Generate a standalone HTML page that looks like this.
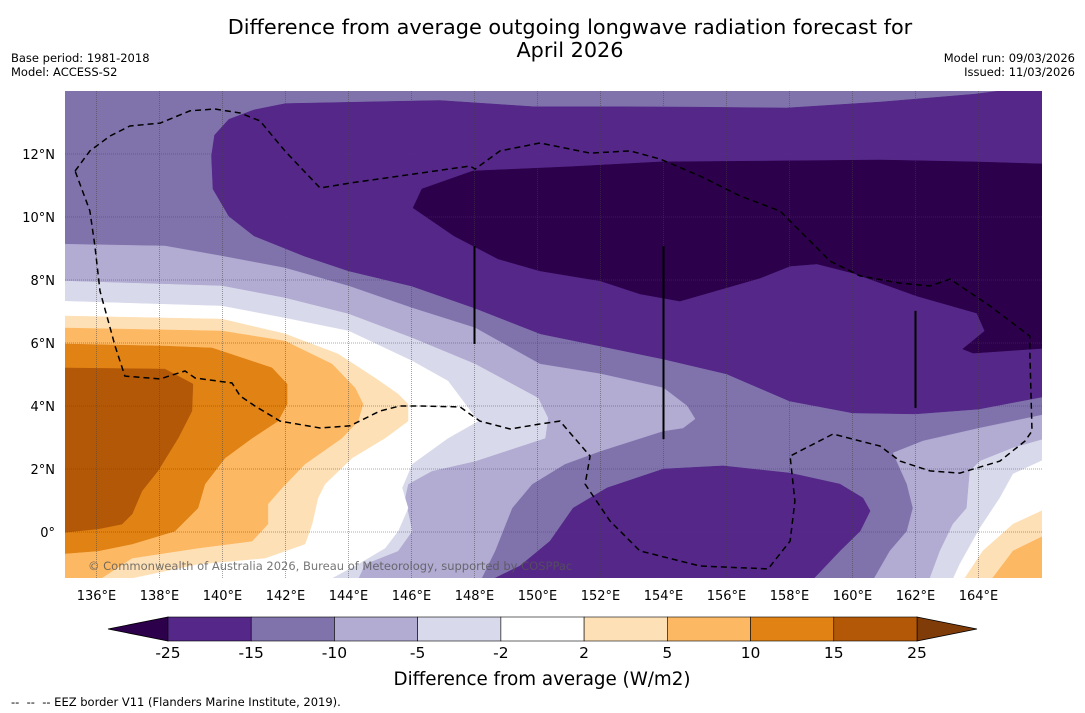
<!DOCTYPE html>
<html><head><meta charset="utf-8">
<style>
body{margin:0;background:#fff;width:1085px;height:713px;overflow:hidden;font-family:"DejaVu Sans","Liberation Sans",sans-serif;}
svg{position:absolute;left:0;top:0}
</style></head><body>
<svg id="chart" width="1085" height="713">
<text x="570" y="34" font-size="20.8" text-anchor="middle" fill="#000">Difference from average outgoing longwave radiation forecast for</text>
<text x="570" y="57" font-size="20.8" text-anchor="middle" fill="#000">April 2026</text>
<text x="11" y="62" font-size="11.5">Base period: 1981-2018</text>
<text x="11" y="76" font-size="11.5">Model: ACCESS-S2</text>
<text x="1075" y="62" font-size="11.5" text-anchor="end">Model run: 09/03/2026</text>
<text x="1075" y="76" font-size="11.5" text-anchor="end">Issued: 11/03/2026</text>
<defs><clipPath id="mapclip"><rect x="65" y="91" width="977" height="487"/></clipPath></defs>
<g id="map" clip-path="url(#mapclip)"></g>
<g id="axes"></g>
<g id="cbar"></g>
<text x="542" y="685" font-size="18.3" text-anchor="middle">Difference from average (W/m2)</text>
<text x="11" y="706" font-size="11.5" xml:space="preserve">--  --  -- EEZ border V11 (Flanders Marine Institute, 2019).</text>
</svg>
<script>
const lonTicks=[136,138,140,142,144,146,148,150,152,154,156,158,160,162,164];
const latTicks=[0,2,4,6,8,10,12];
const levelLabels=["-25","-15","-10","-5","-2","2","5","10","15","25"];
const levelColors=["#542788","#8073ac","#b2abd2","#d8daeb","#ffffff","#fee0b6","#fdb863","#e08214","#b35806"];
const extendLow="#2d004b", extendHigh="#7f3b08";
const bgColor="#8073ac";
const P1=[[139.75,12.6],[140.2,13.1],[141.0,13.4],[142.0,13.6],[146.9,13.7],[149.9,13.5],[152.9,13.5],[154.9,13.49],[157.9,13.46],[160.9,13.65],[163.9,13.9],[166.2,14.2],[166.2,4.32],[164.0,3.9],[162.0,3.75],[160.0,3.78],[158.0,4.16],[156.0,5.02],[154.0,5.49],[152.0,5.9],[150.1,6.29],[148.0,7.11],[146.0,7.81],[144.0,8.29],[142.6,8.76],[141.0,9.4],[140.2,10.03],[139.7,10.89],[139.65,11.94]];
const DARK=[[146.05,10.29],[146.33,10.89],[147.95,11.46],[150.94,11.59],[153.92,11.75],[157.89,11.78],[160.87,11.81],[163.86,11.75],[166.2,11.68],[166.2,5.84],[163.83,5.68],[163.5,5.81],[164.2,6.38],[163.95,6.95],[162.05,7.49],[160.02,8.22],[158.87,8.51],[158.02,8.44],[157.06,8.06],[154.52,7.33],[153.25,7.56],[152.0,7.97],[150.08,8.29],[148.75,8.67],[147.35,9.4]];
const N10L=[[134.8,9.14],[138.17,9.08],[139.98,8.76],[141.98,8.38],[144.0,7.81],[146.02,7.11],[148.02,6.48],[150.08,5.33],[152.0,5.02],[154.0,4.57],[154.75,4.0],[155.0,3.59],[154.62,3.3],[154.0,3.21],[152.0,2.57],[150.87,2.16],[149.83,1.52],[149.19,0.76],[148.65,-0.6],[148.11,-1.7],[134.8,-1.7]];
const N10R=[[166.2,3.75],[164.05,3.3],[162.24,2.89],[161.29,2.51],[161.73,1.52],[161.92,0.76],[161.73,0.03],[161.19,-0.6],[160.56,-1.7],[166.2,-1.7]];
const N5L=[[134.8,7.97],[139.98,7.81],[141.98,7.43],[144.0,6.92],[146.02,6.16],[148.02,5.33],[150.02,4.25],[150.33,3.62],[150.24,2.98],[148.02,2.25],[146.65,1.94],[145.89,1.52],[145.79,1.08],[146.02,0.03],[145.57,-0.6],[144.52,-1.02],[144.21,-1.7],[134.8,-1.7]];
const N5R=[[166.2,2.98],[165.1,2.67],[164.05,2.25],[163.73,1.94],[163.63,0.76],[163.19,0.25],[162.78,-0.6],[162.37,-1.7],[166.2,-1.7]];
const WL=[[134.8,7.33],[139.98,7.17],[141.98,6.79],[144.0,6.38],[146.02,5.43],[147.16,4.79],[148.11,3.52],[147.16,2.98],[146.02,2.16],[145.7,1.4],[145.89,0.76],[145.57,0.03],[145.16,-0.51],[144.3,-1.02],[143.03,-1.7],[134.8,-1.7]];
const WR=[[166.2,2.35],[165.1,1.84],[164.68,1.08],[164.05,0.13],[163.41,-1.02],[163.1,-1.7],[166.2,-1.7]];
const P2L=[[134.8,6.86],[139.98,6.76],[141.98,6.29],[143.67,5.65],[144.84,4.89],[145.57,4.38],[145.89,4.06],[145.89,3.52],[145.16,2.98],[144.11,2.35],[143.25,1.52],[143.03,1.08],[142.84,0.25],[142.62,-0.38],[141.35,-0.83],[139.22,-1.02],[137.13,-1.46],[134.8,-1.7]];
const P2R=[[166.2,0.76],[165.1,0.25],[164.14,-0.6],[163.41,-1.7],[166.2,-1.7]];
const P5L=[[134.8,6.48],[139.98,6.38],[141.98,6.06],[143.48,5.33],[144.21,4.57],[144.46,4.06],[144.3,3.52],[143.79,2.98],[142.62,2.16],[141.89,1.4],[141.44,0.89],[141.44,0.25],[140.94,-0.29],[139.22,-0.51],[137.13,-0.83],[135.8,-1.7],[134.8,-1.7]];
const P5R=[[166.2,-0.06],[165.1,-0.6],[164.27,-1.7],[166.2,-1.7]];
const P10=[[134.8,5.97],[138.17,5.9],[139.67,5.84],[141.57,5.21],[142.05,4.7],[142.05,4.06],[141.76,3.52],[140.94,2.98],[140.08,2.35],[139.44,1.52],[139.22,0.76],[138.49,0.03],[137.13,-0.38],[136.05,-0.6],[134.8,-0.7]];
const P15=[[134.8,5.21],[138.17,5.17],[139.06,4.7],[139.03,3.84],[138.59,2.98],[137.95,1.94],[137.44,1.3],[137.13,0.57],[136.81,0.25],[136.05,0.1],[134.8,-0.03]];
const BLOB=[[148.17,-1.7],[149.44,-1.08],[150.4,-0.29],[151.13,0.76],[152.21,1.4],[154.0,2.0],[155.89,2.1],[158.02,1.87],[159.6,1.52],[160.33,1.08],[160.56,0.67],[160.24,0.03],[159.6,-0.6],[158.56,-1.7]];
const EEZ=[[135.32,11.46],[135.79,12.1],[136.43,12.57],[137.06,12.89],[138.02,12.98],[138.97,13.37],[139.76,13.43],[140.56,13.3],[141.19,13.05],[141.98,12.1],[143.1,10.92],[144.05,11.08],[145.63,11.3],[147.86,11.62],[148.02,11.52],[148.81,12.1],[150.08,12.35],[151.67,12.03],[152.94,12.1],[153.89,11.84],[155.16,11.3],[156.43,10.67],[157.7,10.19],[158.33,9.56],[159.29,8.6],[160.24,8.13],[161.51,7.9],[162.46,7.81],[163.1,8.03],[164.37,7.17],[165.63,6.22],[165.63,5.75],[165.7,3.21],[165.48,2.89],[164.68,2.25],[163.41,1.87],[162.46,1.94],[161.51,2.25],[160.87,2.73],[160.24,2.89],[159.38,3.11],[158.02,2.41],[158.17,0.98],[158.02,-0.29],[157.32,-1.17],[155.16,-1.08],[153.25,-0.6],[152.3,0.35],[151.51,1.52],[151.67,2.41],[150.71,3.52],[150.08,3.43],[149.13,3.27],[148.17,3.52],[147.54,3.97],[146.27,4.0],[145.63,4.0],[145.0,3.84],[144.05,3.37],[143.1,3.3],[141.83,3.52],[141.03,4.0],[140.56,4.32],[140.3,4.73],[139.13,4.89],[138.81,5.11],[138.02,4.86],[136.9,4.95],[136.59,5.9],[136.11,7.65],[135.95,9.08],[135.79,10.19],[135.32,11.46]];
const vLines=[[[148,9.08],[148,5.97]],[[154,9.08],[154,2.95]],[[162,7.02],[162,3.94]]];

const NS="http://www.w3.org/2000/svg";
const LON0=135,LAT0=14,PX=31.5,X0=65,Y0=91;
function sx(lon){return X0+(lon-LON0)*PX;}
function sy(lat){return Y0+(LAT0-lat)*PX;}
function mk(tag,attrs,parent){const e=document.createElementNS(NS,tag);for(const k in attrs)e.setAttribute(k,attrs[k]);parent.appendChild(e);return e;}
function pts(arr){return arr.map(p=>sx(p[0]).toFixed(1)+","+sy(p[1]).toFixed(1)).join(" ");}
const map=document.getElementById("map");
let bg=mk("rect",{x:X0,y:Y0,width:977,height:487,fill:bgColor},map);


const layers=[[P1,levelColors[0],"contour-minus15-upper"],[DARK,extendLow,"contour-below-minus25"],[N10L,levelColors[2],"contour-minus10-left"],[N10R,levelColors[2],"contour-minus10-right"],[N5L,levelColors[3],"contour-minus5-left"],[N5R,levelColors[3],"contour-minus5-right"],[WL,levelColors[4],"contour-neutral-left"],[WR,levelColors[4],"contour-neutral-right"],[P2L,levelColors[5],"contour-plus2-left"],[P2R,levelColors[5],"contour-plus2-right"],[P5L,levelColors[6],"contour-plus5-left"],[P5R,levelColors[6],"contour-plus5-right"],[P10,levelColors[7],"contour-plus10"],[P15,levelColors[8],"contour-plus15"],[BLOB,levelColors[0],"contour-minus15-lower"]];
for(const L of layers){
  const p=mk("polygon",{points:pts(L[0]),fill:L[1],stroke:L[1],"stroke-width":0.5},map);
  
  
}
for(const lon of lonTicks){
  const g=mk("line",{x1:sx(lon),x2:sx(lon),y1:Y0,y2:Y0+487,stroke:"#444","stroke-width":0.8,"stroke-dasharray":"1,1",opacity:0.6},map);
  
  
}
for(const lat of latTicks){
  const g=mk("line",{x1:X0,x2:X0+977,y1:sy(lat),y2:sy(lat),stroke:"#444","stroke-width":0.8,"stroke-dasharray":"1,1",opacity:0.6},map);
  
  
}
const eez=mk("polyline",{points:pts(EEZ),fill:"none",stroke:"#000","stroke-width":1.5,"stroke-dasharray":"6,4"},map);


for(const v of vLines){
  const l=mk("line",{x1:sx(v[0][0]),y1:sy(v[0][1]),x2:sx(v[1][0]),y2:sy(v[1][1]),stroke:"#000","stroke-width":2},map);
  
  
}
const cp=mk("text",{x:88,y:570,"font-size":11.5,fill:"#555",opacity:0.8},map);
cp.textContent="© Commonwealth of Australia 2026, Bureau of Meteorology, supported by COSPPac";


const axes=document.getElementById("axes");
for(const lon of lonTicks){
  const t=mk("text",{x:sx(lon),y:600,"font-size":13,"text-anchor":"middle"},axes);
  t.textContent=lon+"°E";
  
  
}
for(const lat of latTicks){
  const t=mk("text",{x:55,y:sy(lat)+5,"font-size":13,"text-anchor":"end"},axes);
  t.textContent=lat===0?"0°":lat+"°N";
  
  
}
const cb=document.getElementById("cbar");
const cbX0=168,cbX1=917,cbY=617,cbH=24,n=levelColors.length,w=(cbX1-cbX0)/n;
let lt=mk("polygon",{points:`${cbX0},${cbY} 108,${cbY+cbH/2} ${cbX0},${cbY+cbH}`,fill:extendLow,stroke:"#000","stroke-width":0.8},cb);


let rt=mk("polygon",{points:`${cbX1},${cbY} 977,${cbY+cbH/2} ${cbX1},${cbY+cbH}`,fill:extendHigh,stroke:"#000","stroke-width":0.8},cb);


levelColors.forEach((c,i)=>{
  const r=mk("rect",{x:cbX0+i*w,y:cbY,width:w,height:cbH,fill:c,stroke:"#000","stroke-width":0.6},cb);
  
  
});
levelLabels.forEach((s,i)=>{
  const t=mk("text",{x:cbX0+i*w,y:658,"font-size":15.5,"text-anchor":"middle"},cb);
  t.textContent=s;
  
  
});
</script>
</body></html>
